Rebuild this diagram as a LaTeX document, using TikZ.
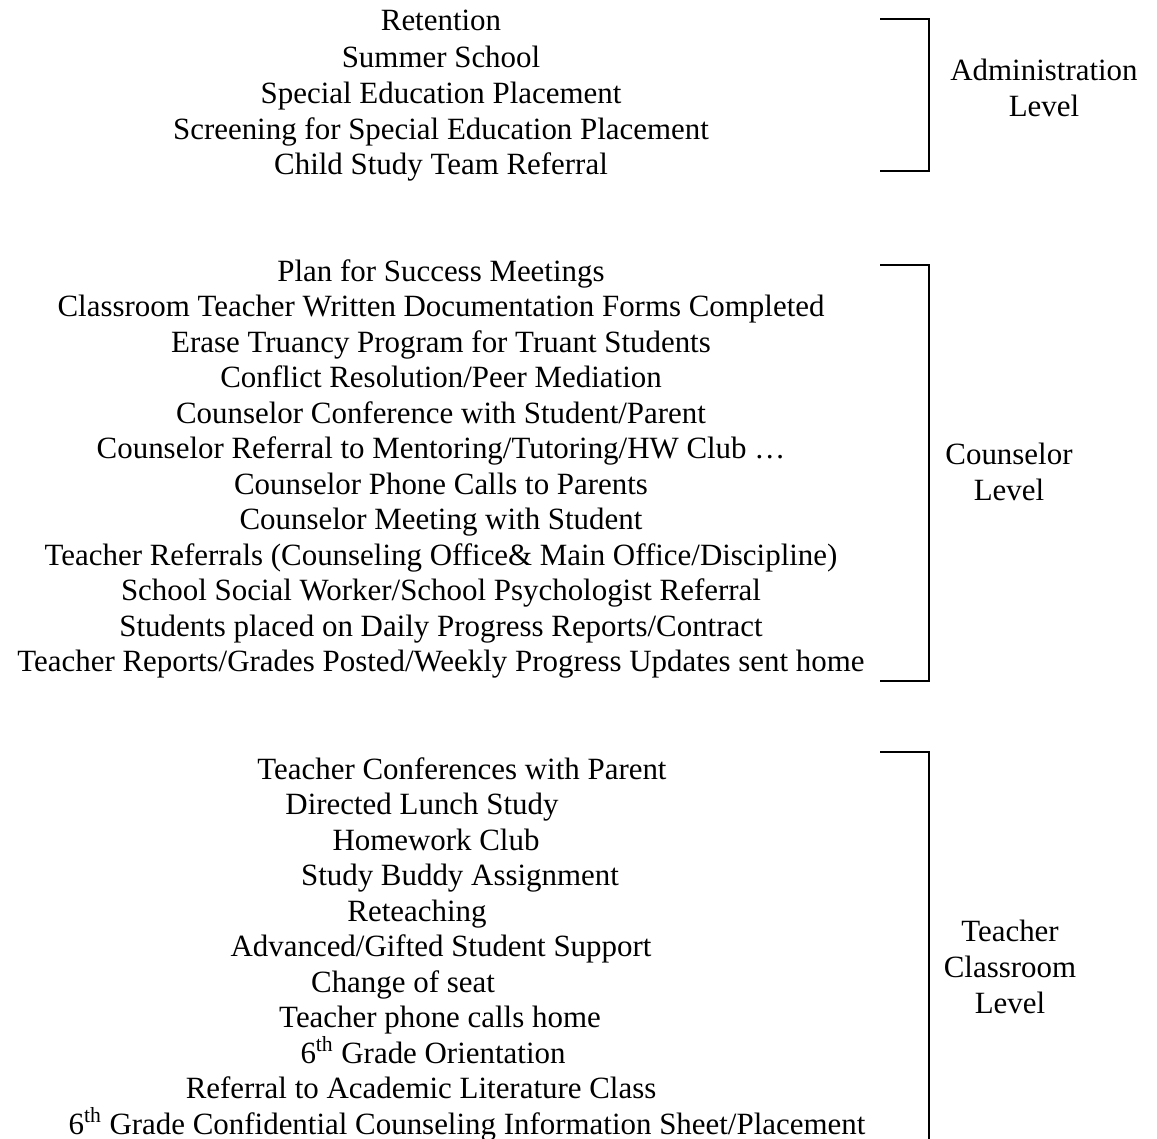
\documentclass[tikz,border=0pt]{standalone}
\usepackage{fontspec}
\setmainfont{Liberation Serif}
\usepackage{tikz}

\tikzset{
  item/.style={inner sep=0pt, anchor=base, font=\fontsize{17.6}{20.3}\selectfont},
  level/.style={item, align=center},
  bracket/.style={black, line width=1pt}
}

\begin{document}
\begin{tikzpicture}[x=0.02cm, y=-0.02cm]
        \clip (0,0) rectangle (1157,1139);

        \node[item] (ret) at (441,31) {Retention};
        \node[item] (summer) at (441,67) {Summer School};
        \node[item] (sep) at (441,103) {Special Education Placement};
        \node[item] (screen) at (441,139) {Screening for Special Education Placement};
        \node[item] (cst) at (441,174) {Child Study Team Referral};

        \node[item] (plan) at (441,281) {Plan for Success Meetings};
        \node[item] (forms) at (441,316.5) {Classroom Teacher Written Documentation Forms Completed};
        \node[item] (erase) at (441,352) {Erase Truancy Program for Truant Students};
        \node[item] (conflict) at (441,387.5) {Conflict Resolution/Peer Mediation};
        \node[item] (cconf) at (441,423) {Counselor Conference with Student/Parent};
        \node[item] (cref) at (441,458.5) {Counselor Referral to Mentoring/Tutoring/HW Club \dots};
        \node[item] (cphone) at (441,494) {Counselor Phone Calls to Parents};
        \node[item] (cmeet) at (441,529.5) {Counselor Meeting with Student};
        \node[item] (tref) at (441,565) {Teacher Referrals (Counseling Office\& Main Office/Discipline)};
        \node[item] (social) at (441,600.5) {School Social Worker/School Psychologist Referral};
        \node[item] (daily) at (441,636) {Students placed on Daily Progress Reports/Contract};
        \node[item] (weekly) at (441,671.5) {Teacher Reports/Grades Posted/Weekly Progress Updates sent home};

        \node[item] (tconf) at (462,779) {Teacher Conferences with Parent};
        \node[item] (lunch) at (422,814.5) {Directed Lunch Study};
        \node[item] (hw) at (436,850) {Homework Club};
        \node[item] (buddy) at (460,885.5) {Study Buddy Assignment};
        \node[item] (reteach) at (417,921) {Reteaching};
        \node[item] (gifted) at (441,956.5) {Advanced/Gifted Student Support};
        \node[item] (seat) at (403,992) {Change of seat};
        \node[item] (tphone) at (440,1027.5) {Teacher phone calls home};
        \node[item] (orient) at (433,1063) {6\textsuperscript{th} Grade Orientation};
        \node[item] (litclass) at (421,1098.5) {Referral to Academic Literature Class};
        \node[item] (sheet) at (467,1134) {6\textsuperscript{th} Grade Confidential Counseling Information Sheet/Placement};

        \draw[bracket] (880,19) -- (929,19) -- (929,171) -- (880,171);
        \draw[bracket] (880,265) -- (929,265) -- (929,681) -- (880,681);
        \draw[bracket] (880,752) -- (929,752) -- (929,1160);

        \node[level] (admin) at (1044,116) {Administration\\Level};
        \node[level] (couns) at (1009,500) {Counselor\\Level};
        \node[level] (teach) at (1010,1013) {Teacher\\Classroom\\Level};
\end{tikzpicture}
\end{document}
